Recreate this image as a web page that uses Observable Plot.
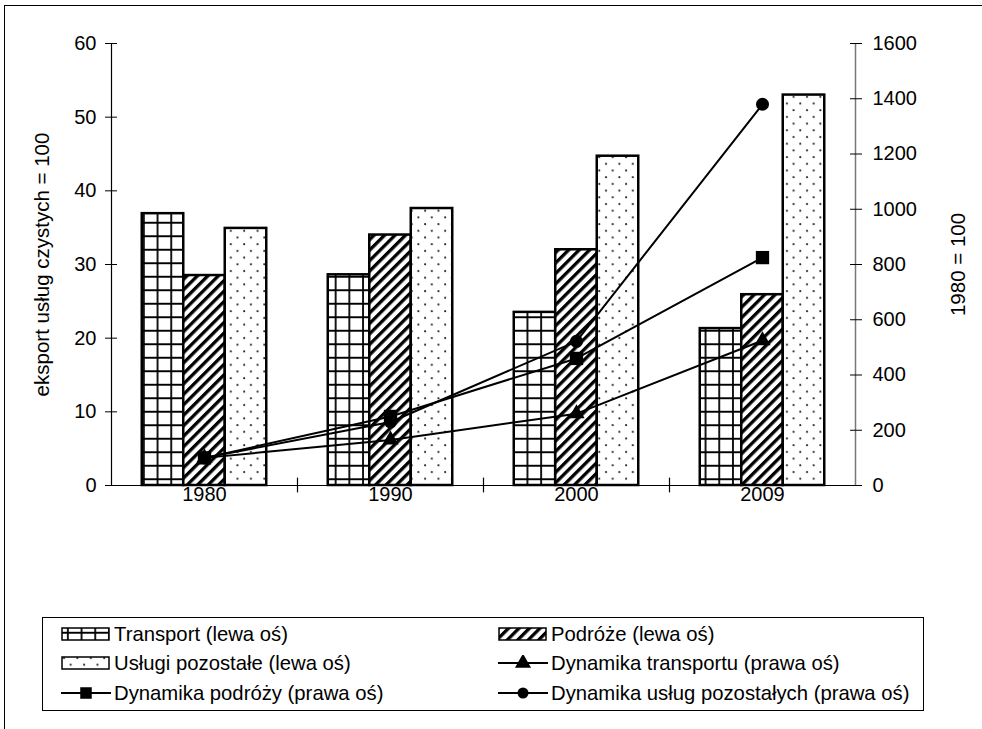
<!DOCTYPE html>
<html><head><meta charset="utf-8">
<script src="https://cdn.jsdelivr.net/npm/d3@7"></script>
<script src="https://cdn.jsdelivr.net/npm/@observablehq/plot@0.6"></script>
<style>
body{margin:0;background:#fff;font-family:"Liberation Sans",Arial,sans-serif;}
#wrap{position:relative;width:982px;height:729px;overflow:hidden;background:#fff;}
#frame{position:absolute;left:4px;top:5px;width:990px;height:740px;border-top:1.5px solid #000;border-left:1.5px solid #000;pointer-events:none;}
#chart{position:absolute;left:0;top:0;}
#legend{position:absolute;left:42px;top:617px;width:882px;height:94px;border:1px solid #000;box-sizing:border-box;background:#fff;}
.item{position:absolute;display:flex;align-items:center;height:24px;font-size:20.3px;color:#000;white-space:nowrap;}
.item svg{margin-right:3px;}
</style></head>
<body>
<svg width="0" height="0" style="position:absolute">
  <defs>
    <pattern id="pGrid" patternUnits="userSpaceOnUse" width="13.7" height="13.5">
      <rect width="13.7" height="13.5" fill="#fff"/>
      <path d="M6.85,0V13.5M0,6.75H13.7" stroke="#000" stroke-width="1.8"/>
    </pattern>
    <pattern id="pDiag" patternUnits="userSpaceOnUse" width="7.4" height="7.4" patternTransform="rotate(45)">
      <rect width="7.4" height="7.4" fill="#fff"/>
      <rect x="0" width="3.3" height="7.4" fill="#000"/>
    </pattern>
    <pattern id="pDots" patternUnits="userSpaceOnUse" width="13.4" height="13.4">
      <rect width="13.4" height="13.4" fill="#fff"/>
      <circle cx="3" cy="3" r="1.05" fill="#222"/>
      <circle cx="9.7" cy="9.7" r="1.05" fill="#222"/>
    </pattern>
  </defs>
</svg>
<div id="wrap">
  <div id="chart"></div>
  <div id="frame"></div>
  <div id="legend"></div>
</div>
<script>
// ---- data ----
const years = ["1980", "1990", "2000", "2009"];
const barNames = ["Transport (lewa oś)", "Podróże (lewa oś)", "Usługi pozostałe (lewa oś)"];
const transport = [36.9, 28.6, 23.5, 21.3];
const podroze = [28.5, 34.0, 32.0, 25.9];
const uslugi = [34.9, 37.6, 44.7, 53.0];
const lineNames = ["Dynamika transportu (prawa oś)", "Dynamika podróży (prawa oś)", "Dynamika usług pozostałych (prawa oś)"];
const dynTransport = [100, 165, 260, 525];
const dynPodroze = [100, 250, 460, 825];
const dynUslugi = [100, 230, 522, 1380];
const leftTicks = [0, 10, 20, 30, 40, 50, 60];
const rightTicks = [0, 200, 400, 600, 800, 1000, 1200, 1400, 1600];
const leftTitle = "eksport usług czystych = 100";
const rightTitle = "1980 = 100";

// ---- layout ----
const k = 60 / 1600; // right axis -> left axis units
const mL = 111, mR = 127, W = 982;
const bandW = (W - mL - mR) / years.length;
const barW = 41.5;
const side = (bandW - barW) / 2;
const FONT = "'Liberation Sans', Arial, sans-serif";

const barSpecs = [
  {vals: transport, fill: "url(#pGrid)", off: -barW},
  {vals: podroze, fill: "url(#pDiag)", off: 0},
  {vals: uslugi, fill: "url(#pDots)", off: barW}
];
// drawing order of markers: triangle, circle, square (square on top)
const lineSpecs = [
  {vals: dynTransport, symbol: "triangle", r: 6},
  {vals: dynUslugi, symbol: "circle", r: 6.5},
  {vals: dynPodroze, symbol: "square", r: 7.5}
];

const marks = [];
barSpecs.forEach(s => {
  marks.push(Plot.barY(years, {
    x: d => d, y: (d, i) => s.vals[i],
    fill: s.fill, stroke: "#000", strokeWidth: 2.5,
    insetLeft: side + s.off, insetRight: side - s.off
  }));
});
// axis lines
marks.push(Plot.ruleY([0], {stroke: "#000", strokeWidth: 1.2}));
marks.push(Plot.ruleX([years[0]], {x: d => d, dx: -bandW / 2, stroke: "#000", strokeWidth: 1.2}));
marks.push(Plot.ruleX([years[years.length - 1]], {x: d => d, dx: bandW / 2, stroke: "#777", strokeWidth: 1.5}));
marks.push(Plot.ruleX(years.slice(1), {x: d => d, dx: -bandW / 2, y1: 1, y2: -1, stroke: "#000", strokeWidth: 1.2}));
// lines
const lineData = lineSpecs.map(s => years.map((y, i) => ({year: y, v: s.vals[i] * k})));
lineData.forEach(data => marks.push(Plot.line(data, {x: "year", y: "v", stroke: "#000", strokeWidth: 2})));
lineSpecs.forEach((s, j) => {
  marks.push(Plot.dot(lineData[j], {x: "year", y: "v", symbol: () => s.symbol, r: s.r, fill: "#000", stroke: "none"}));
});
// axes
marks.push(Plot.axisY({anchor: "left", ticks: leftTicks, tickSize: 12, dx: 6, tickPadding: 9, label: null, fontSize: 20}));
marks.push(Plot.axisY({anchor: "right", ticks: rightTicks.map(v => v * k), tickFormat: d => String(Math.round(d / k)), tickSize: 12, dx: -6, tickPadding: 11, label: null, fontSize: 20}));
marks.push(Plot.axisX({tickSize: 0, tickPadding: 1, label: null, fontSize: 20}));
marks.push(Plot.text([leftTitle], {frameAnchor: "left", textAnchor: "middle", dx: -69, rotate: -90, fontSize: 20.5}));
marks.push(Plot.text([rightTitle], {frameAnchor: "right", textAnchor: "middle", dx: 103, rotate: -90, fontSize: 20.5}));

const chart = Plot.plot({
  width: W, height: 729,
  marginLeft: mL, marginRight: mR, marginTop: 43, marginBottom: 244,
  x: {type: "band", domain: years, padding: 0},
  y: {domain: [0, 60]},
  style: {fontFamily: FONT, fontSize: "20px", color: "#000", background: "transparent", overflow: "visible"},
  marks
});
document.getElementById("chart").appendChild(chart);

// ---- legend ----
const legend = document.getElementById("legend");
const items = [
  {label: barNames[0], type: "bar", fill: "url(#pGrid)"},
  {label: barNames[1], type: "bar", fill: "url(#pDiag)"},
  {label: barNames[2], type: "bar", fill: "url(#pDots)"},
  {label: lineNames[0], type: "line", symbol: d3.symbolTriangle, r: 6},
  {label: lineNames[1], type: "line", symbol: d3.symbolSquare, r: 6.5},
  {label: lineNames[2], type: "line", symbol: d3.symbolCircle, r: 5.5}
];
const rowY = [633, 662, 692];
items.forEach((it, i) => {
  const col = i % 2, row = Math.floor(i / 2);
  const div = document.createElement("div");
  div.className = "item";
  div.style.left = (col === 0 ? 60 - 42 : 497 - 42) + "px";
  div.style.top = (rowY[row] - 617 - 12) + "px";
  const svg = d3.create("svg").attr("width", 50).attr("height", 16);
  if (it.type === "bar") {
    svg.append("rect").attr("x", 1).attr("y", 2).attr("width", 47).attr("height", 12)
      .attr("fill", it.fill).attr("stroke", "#000").attr("stroke-width", 1.5);
  } else {
    svg.append("line").attr("x1", 0).attr("x2", 50).attr("y1", 8).attr("y2", 8).attr("stroke", "#000").attr("stroke-width", 2);
    svg.append("path").attr("transform", "translate(25,8)")
      .attr("d", d3.symbol(it.symbol, Math.PI * it.r * it.r)()).attr("fill", "#000");
  }
  div.appendChild(svg.node());
  const span = document.createElement("span");
  span.textContent = it.label;
  div.appendChild(span);
  legend.appendChild(div);
});
</script>
</body></html>
